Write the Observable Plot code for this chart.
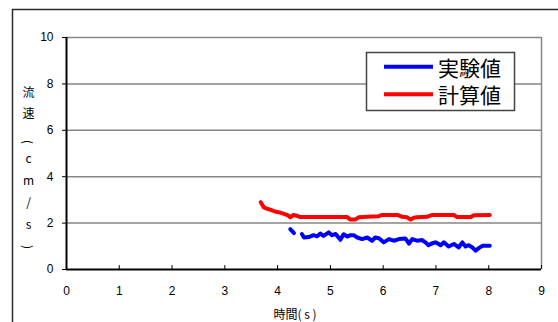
<!DOCTYPE html>
<html>
<head>
<meta charset="utf-8">
<script src="https://cdn.jsdelivr.net/npm/d3@7"></script>
<script src="https://cdn.jsdelivr.net/npm/@observablehq/plot@0.6"></script>
<style>
  html, body { margin: 0; padding: 0; background: white; }
  svg { display: block; }
</style>
</head>
<body>
<div id="chart"></div>
<script>
const xTicks = [0, 1, 2, 3, 4, 5, 6, 7, 8, 9];
const yTicks = [0, 2, 4, 6, 8, 10];
const seriesNames = ["実験値", "計算値"];
const yTitleChars = ["流", "速", "(", "c", "m", "/", "s", ")"];
const xTitle = "時間( s )";

// 計算値 (red)
const calcTime = [3.68, 3.74, 3.80, 3.86, 3.95, 4.05, 4.12, 4.20, 4.24, 4.30, 4.36, 4.43, 4.80, 5.00, 5.32, 5.38, 5.47, 5.54, 5.70, 5.92, 5.98, 6.27, 6.36, 6.45, 6.52, 6.58, 6.64, 6.83, 6.93, 7.10, 7.34, 7.40, 7.66, 7.72, 8.02];
const calcValue = [2.90, 2.68, 2.62, 2.58, 2.50, 2.45, 2.40, 2.33, 2.25, 2.35, 2.32, 2.26, 2.26, 2.26, 2.26, 2.15, 2.15, 2.25, 2.27, 2.30, 2.35, 2.35, 2.27, 2.25, 2.15, 2.23, 2.25, 2.27, 2.35, 2.35, 2.35, 2.26, 2.26, 2.34, 2.35];

// 実験値 (blue) — null breaks the line
const expTime = [4.24, 4.31, 4.38, 4.46, 4.50, 4.59, 4.68, 4.75, 4.81, 4.87, 4.97, 5.03, 5.10, 5.19, 5.25, 5.32, 5.38, 5.44, 5.51, 5.60, 5.70, 5.79, 5.85, 5.92, 6.01, 6.11, 6.20, 6.30, 6.42, 6.49, 6.55, 6.64, 6.74, 6.80, 6.86, 6.92, 6.99, 7.09, 7.15, 7.24, 7.34, 7.43, 7.50, 7.56, 7.62, 7.69, 7.75, 7.81, 7.88, 8.02];
const expValue = [1.74, 1.57, null, 1.53, 1.38, 1.40, 1.48, 1.43, 1.55, 1.45, 1.60, 1.48, 1.53, 1.28, 1.52, 1.42, 1.48, 1.48, 1.38, 1.31, 1.38, 1.24, 1.38, 1.35, 1.17, 1.31, 1.24, 1.31, 1.34, 1.12, 1.31, 1.24, 1.27, 1.17, 1.05, 1.12, 1.17, 1.05, 1.17, 0.99, 1.10, 0.95, 1.17, 0.99, 1.05, 0.95, 0.81, 0.92, 1.02, 1.02];

const calc = calcTime.map((t, i) => ({t, v: calcValue[i]}));
const exp = expTime.map((t, i) => ({t, v: expValue[i]}));

const font = "'Liberation Sans', Arial, 'Noto Sans CJK JP', sans-serif";
const cjk = "'Noto Sans CJK JP', 'Liberation Sans', sans-serif";

const chart = Plot.plot({
  width: 558,
  height: 322,
  marginLeft: 66,
  marginRight: 17,
  marginTop: 37,
  marginBottom: 53,
  x: {domain: [0, 9]},
  y: {domain: [0, 10]},
  style: {fontFamily: font, fontSize: "12px", background: "white", color: "black", overflow: "visible"},
  marks: [
    Plot.ruleY(yTicks.filter(d => d > 0), {stroke: "#868686", strokeWidth: 1.5}),
    Plot.ruleX([9], {stroke: "#868686", strokeWidth: 1.5}),
    Plot.axisY({ticks: yTicks, tickSize: 4, tickPadding: 9, label: null, fontSize: 12}),
    Plot.axisX({ticks: xTicks, tickSize: 0, tickPadding: 17, label: null, fontSize: 12}),
    Plot.ruleX(xTicks.filter(d => d > 0), {y1: 0, y2: 0.17, stroke: "black", strokeWidth: 1}),
    Plot.ruleY([0], {stroke: "black", strokeWidth: 2}),
    Plot.ruleX([0], {stroke: "black", strokeWidth: 2}),
    Plot.line(calc, {x: "t", y: "v", stroke: "#ff0000", strokeWidth: 4, strokeLinejoin: "round", strokeLinecap: "round"}),
    Plot.line(exp, {x: "t", y: "v", stroke: "#0000ff", strokeWidth: 4, strokeLinejoin: "round", strokeLinecap: "round"})
  ]
});

const svg = d3.select(chart);

// outer chart-area border (left and top visible)
svg.insert("rect", ":first-child")
  .attr("x", 12.5).attr("y", 9.5).attr("width", 700).attr("height", 400)
  .attr("fill", "none").attr("stroke", "#2a2a2a").attr("stroke-width", 1.5);

// y-axis title, vertical, one character per line
const yTitlePos = [91, 112.5, 142, 157, 179, 201, 223, 247];
const yt = svg.append("g").attr("font-family", cjk).attr("font-size", 12).attr("fill", "black");
yTitleChars.forEach((c, i) => {
  const t = yt.append("text")
    .attr("x", 28.5).attr("y", yTitlePos[i])
    .attr("text-anchor", "middle").attr("dominant-baseline", "central")
    .text(c);
  if (c === "(" || c === ")") {
    t.attr("transform", `rotate(90, 28.5, ${yTitlePos[i]})`);
  }
});

// x-axis title
svg.append("text")
  .attr("x", 295).attr("y", 313)
  .attr("text-anchor", "middle").attr("dominant-baseline", "central")
  .attr("font-family", cjk).attr("font-size", 12).attr("fill", "black")
  .text(xTitle);

// legend
const lg = svg.append("g");
lg.append("rect").attr("x", 366.5).attr("y", 52.5).attr("width", 148).attr("height", 58)
  .attr("fill", "white").attr("stroke", "#444").attr("stroke-width", 1.5);
const legendColors = ["#0000ff", "#ff0000"];
const legendY = [66.7, 94.3];
seriesNames.forEach((name, i) => {
  lg.append("line").attr("x1", 384).attr("x2", 433).attr("y1", legendY[i]).attr("y2", legendY[i])
    .attr("stroke", legendColors[i]).attr("stroke-width", 4);
  lg.append("text").attr("x", 438).attr("y", legendY[i])
    .attr("text-anchor", "start")
    .attr("dominant-baseline", "central")
    .attr("font-family", cjk).attr("font-size", 21).attr("fill", "black")
    .text(name);
});

document.getElementById("chart").appendChild(chart);
</script>
</body>
</html>
